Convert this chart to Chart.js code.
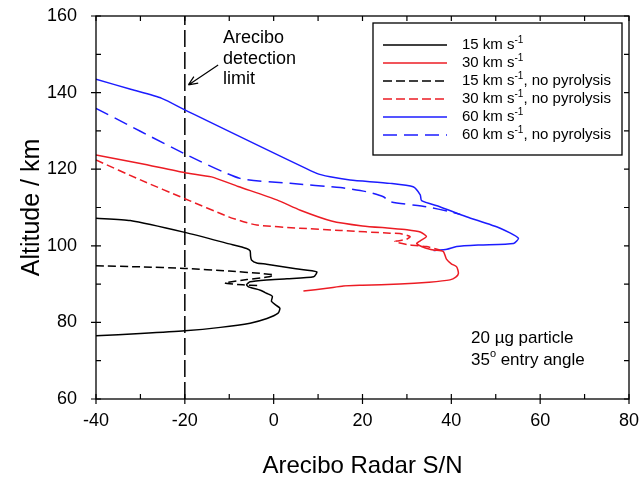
<!DOCTYPE html>
<html>
<head>
<meta charset="utf-8">
<script src="https://cdn.jsdelivr.net/npm/chart.js@4.4.1/dist/chart.umd.min.js"></script>
<style>
  html, body { margin: 0; padding: 0; background: #fff; }
  #wrap { width: 639px; height: 480px; }
</style>
</head>
<body>
<div id="wrap"><canvas id="c" width="639" height="480"></canvas></div>
<script>
// x = Arecibo radar S/N, y = altitude (km)
var sn15 = [-40, -32.3, -20, -10, -6.1, -5.3, -5.2, -5, -3.8, -1.6, 5, 9.7, 9, 3, -1.6, -5.3, -6.1, -5.5, -3, -1.6, -0.3, -0.5, 0.5, 1.4, 1, -1.5, -5.3, -12, -20, -30, -40];
var alt15 = [107.2, 106.6, 103.5, 100.5, 99.3, 98.7, 97.3, 96.3, 95.5, 95.2, 94, 93.2, 91.9, 91.4, 91.1, 90.6, 89.8, 89.2, 88.4, 87.6, 86.8, 85.5, 84.5, 83.7, 82.4, 81, 79.8, 78.7, 77.8, 77.1, 76.5];

var sn30 = [-40, -30, -20, -14, -8, 0.7, 6, 13, 20, 26.2, 30, 33, 34.4, 33, 32.2, 34, 36, 38.2, 38.9, 40, 41.2, 41.6, 41, 39.7, 35, 28.4, 20, 15.7, 12, 6.7];
var alt30 = [123.7, 121.5, 119.1, 118, 115.5, 112, 109.3, 106.5, 105.2, 104.6, 104.2, 103.6, 102.4, 101.3, 100.6, 99.5, 98.9, 98.5, 96.5, 95.3, 94.5, 92.8, 91.8, 91.1, 90.5, 90, 89.7, 89.5, 88.9, 88.2];

var sn15np = [-40, -30, -20, -10, -3, 0, -1, -6, -11, -7, -3.5];
var alt15np = [94.8, 94.5, 94.1, 93.4, 92.8, 92.4, 91.9, 91.2, 90.3, 89.8, 89.6];

var sn30np = [-40, -30, -20, -10, -6.8, -3.8, 5.9, 15, 26.2, 28.4, 30.7, 29.9, 27.3, 30.7, 34.4, 37.4];
var alt30np = [122.4, 117.2, 112.3, 107.5, 106.3, 105.4, 104.6, 104, 103.3, 103.2, 102.4, 101.7, 101.1, 100.2, 99.8, 98.9];

var sn60 = [-40, -32, -25.2, -20, 9.7, 12.7, 17.2, 26.2, 31.4, 33, 33.3, 37.4, 43.4, 51, 55.1, 54, 46.4, 41.2, 39, 36];
var alt60 = [143.5, 140.8, 138.5, 135.5, 118.9, 118, 117.2, 116.3, 115.4, 113.3, 111.8, 110.2, 107.6, 104.6, 102, 100.6, 100.2, 99.8, 99.1, 98.8];

var sn60np = [-40, -20, -7.6, 3.7, 15, 21, 24.7, 26.2, 34.4, 39.7, 42];
var alt60np = [135.9, 124, 117.6, 116.3, 115.2, 114.1, 112.8, 111.5, 110.2, 108.9, 108.2];

// detection limit line
var limitSn = [-20, -20];
var limitAlt = [60, 160];

var xTicks = [-40, -20, 0, 20, 40, 60, 80];
var yTicks = [60, 80, 100, 120, 140, 160];

var legendLabels = ["15 km s", "30 km s", "15 km s", "30 km s", "60 km s", "60 km s"];
var legendSuffix = ["", "", ", no pyrolysis", ", no pyrolysis", "", ", no pyrolysis"];

var FONT = "'Liberation Sans', Arial, sans-serif";
var RED = "#ec1c24";
var BLUE = "#1c1cff";

function pts(xs, ys) {
  var out = [];
  for (var i = 0; i < xs.length; i++) out.push({x: xs[i], y: ys[i]});
  return out;
}

function series(label, xs, ys, color, dash) {
  return {
    label: label,
    data: pts(xs, ys),
    showLine: true,
    borderColor: color,
    borderWidth: 1.5,
    borderDash: dash,
    pointRadius: 0,
    tension: 0.2,
    fill: false
  };
}

var datasets = [
  series("15", sn15, alt15, "#000", []),
  series("30", sn30, alt30, RED, []),
  series("15np", sn15np, alt15np, "#000", [8, 4]),
  series("30np", sn30np, alt30np, RED, [8, 4]),
  series("60", sn60, alt60, BLUE, []),
  series("60np", sn60np, alt60np, BLUE, [14, 7]),
  series("limit", limitSn, limitAlt, "#000", [17, 5])
];
datasets[6].tension = 0;

// legend styles, in legend order
var legendStyles = [
  {color: "#000", dash: []},
  {color: RED, dash: []},
  {color: "#000", dash: [9, 4]},
  {color: RED, dash: [9, 4]},
  {color: BLUE, dash: []},
  {color: BLUE, dash: [14, 7]}
];

var decorations = {
  id: "decorations",
  afterDraw: function(chart) {
    var ctx = chart.ctx;
    var xs = chart.scales.x, ys = chart.scales.y;
    var L = chart.chartArea.left, R = chart.chartArea.right;
    var T = chart.chartArea.top, B = chart.chartArea.bottom;
    ctx.save();

    // frame
    ctx.strokeStyle = "#000";
    ctx.lineWidth = 1.3;
    ctx.setLineDash([]);
    ctx.strokeRect(L, T, R - L, B - T);

    // ticks
    ctx.lineWidth = 1.2;
    ctx.beginPath();
    for (var v = -40; v <= 80; v += 10) {
      var px = xs.getPixelForValue(v);
      var major = (v % 20 === 0);
      ctx.moveTo(px, B + (major ? 5 : 0)); ctx.lineTo(px, B - 5);
      ctx.moveTo(px, T); ctx.lineTo(px, T + 5);
    }
    for (var a = 60; a <= 160; a += 10) {
      var py = ys.getPixelForValue(a);
      var majorY = (a % 20 === 0);
      ctx.moveTo(L - (majorY ? 5 : 0), py); ctx.lineTo(L + 5, py);
      ctx.moveTo(R, py); ctx.lineTo(R - 5, py);
    }
    ctx.stroke();

    // tick labels
    ctx.fillStyle = "#000";
    ctx.font = "18px " + FONT;
    ctx.textBaseline = "middle";
    ctx.textAlign = "center";
    xTicks.forEach(function(t) { ctx.fillText(String(t), xs.getPixelForValue(t), 421); });
    ctx.textAlign = "right";
    yTicks.forEach(function(t) { ctx.fillText(String(t), 77, ys.getPixelForValue(t)); });

    // axis titles
    ctx.font = "24px " + FONT;
    ctx.textAlign = "center";
    ctx.fillText("Arecibo Radar S/N", (L + R) / 2, 466);
    ctx.save();
    ctx.font = "25px " + FONT;
    ctx.translate(32, (T + B) / 2);
    ctx.rotate(-Math.PI / 2);
    ctx.fillText("Altitude / km", 0, 0);
    ctx.restore();

    // annotation
    ctx.font = "18px " + FONT;
    ctx.textAlign = "left";
    ctx.fillText("Arecibo", 223, 38);
    ctx.fillText("detection", 223, 59);
    ctx.fillText("limit", 223, 79);
    var ax0 = xs.getPixelForValue(-12.5), ay0 = ys.getPixelForValue(147.2);
    var ax1 = xs.getPixelForValue(-19.2), ay1 = ys.getPixelForValue(142);
    ctx.lineWidth = 1.2;
    ctx.beginPath();
    ctx.moveTo(ax0, ay0); ctx.lineTo(ax1, ay1);
    var ang = Math.atan2(ay1 - ay0, ax1 - ax0);
    ctx.moveTo(ax1, ay1);
    ctx.lineTo(ax1 - 10 * Math.cos(ang - 0.4), ay1 - 10 * Math.sin(ang - 0.4));
    ctx.moveTo(ax1, ay1);
    ctx.lineTo(ax1 - 10 * Math.cos(ang + 0.4), ay1 - 10 * Math.sin(ang + 0.4));
    ctx.stroke();

    // note
    ctx.font = "17px " + FONT;
    ctx.fillText("20 \u00b5g particle", 471, 338);
    var w35 = ctx.measureText("35").width;
    ctx.fillText("35", 471, 360);
    ctx.font = "11px " + FONT;
    ctx.fillText("o", 471 + w35, 354);
    ctx.font = "17px " + FONT;
    ctx.fillText(" entry angle", 471 + w35 + 6, 360);

    // legend box
    ctx.lineWidth = 1.3;
    ctx.strokeRect(373, 23, 249, 132);
    for (var i = 0; i < legendLabels.length; i++) {
      var ry = 45 + i * 18;
      ctx.strokeStyle = legendStyles[i].color;
      ctx.setLineDash(legendStyles[i].dash);
      ctx.lineWidth = 1.5;
      ctx.beginPath();
      ctx.moveTo(383, ry); ctx.lineTo(447, ry);
      ctx.stroke();
      ctx.setLineDash([]);
      ctx.fillStyle = "#000";
      ctx.font = "15px " + FONT;
      var tx = 462;
      ctx.fillText(legendLabels[i], tx, ry);
      tx += ctx.measureText(legendLabels[i]).width;
      ctx.font = "10px " + FONT;
      ctx.fillText("-1", tx, ry - 5);
      tx += ctx.measureText("-1").width;
      ctx.font = "15px " + FONT;
      ctx.fillText(legendSuffix[i], tx, ry);
    }
    ctx.restore();
  }
};

new Chart(document.getElementById("c"), {
  type: "scatter",
  data: {datasets: datasets},
  options: {
    responsive: false,
    animation: false,
    layout: {padding: {left: 0, right: 10, top: 16, bottom: 0}},
    plugins: {legend: {display: false}, tooltip: {enabled: false}},
    scales: {
      x: {
        type: "linear", min: -40, max: 80,
        afterBuildTicks: function(s) { s.ticks = xTicks.map(function(v) { return {value: v}; }); },
        afterFit: function(s) { s.height = 81; },
        grid: {display: false, drawTicks: false},
        border: {display: false},
        ticks: {display: false}
      },
      y: {
        type: "linear", min: 60, max: 160,
        afterBuildTicks: function(s) { s.ticks = yTicks.map(function(v) { return {value: v}; }); },
        afterFit: function(s) { s.width = 96; },
        grid: {display: false, drawTicks: false},
        border: {display: false},
        ticks: {display: false}
      }
    }
  },
  plugins: [decorations]
});
</script>
</body>
</html>
